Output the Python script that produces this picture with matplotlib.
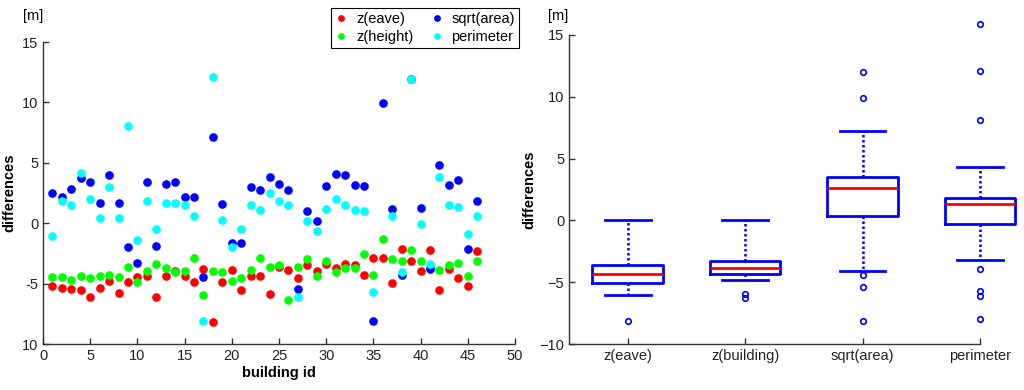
import matplotlib
matplotlib.use("Agg")
import matplotlib.pyplot as plt
import numpy as np

plt.rcParams["font.family"] = ["Liberation Sans", "DejaVu Sans"]
plt.rcParams["font.size"] = 10.5

# left panel: per-building differences [m]
building_id = list(range(1, 47))
z_eave = [-5.19, -5.35, -5.44, -5.52, -6.15, -5.35, -4.80, -5.79, -4.88, -4.44,
          -4.36, -6.07, -4.36, -3.97, -4.36, -4.88, -3.81, -8.20, -4.88, -3.89,
          -5.52, -4.36, -4.36, -5.85, -3.64, -3.89, -4.53, -3.45, -3.97, -3.37,
          -3.73, -3.37, -3.45, -4.25, -2.84, -2.92, -4.97, -2.10, -3.09, -3.97,
          -2.21, -5.52, -3.81, -4.53, -5.16, -2.29]
z_height = [-4.44, -4.44, -4.69, -4.33, -4.53, -4.33, -4.25, -4.44, -3.64, -4.88,
            -3.97, -3.37, -3.73, -4.08, -3.97, -2.84, -5.96, -3.97, -4.08, -4.80,
            -4.53, -3.89, -2.92, -3.64, -3.45, -6.32, -3.64, -3.00, -4.36, -3.17,
            -4.08, -3.73, -3.73, -2.57, -4.25, -1.30, -3.00, -3.09, -2.21, -3.09,
            -3.60, -3.89, -3.45, -3.26, -4.36, -3.09]
sqrt_area = [2.46, 2.13, 2.84, 3.73, 3.37, 1.66, 4.00, 1.66, -2.01, -3.26,
             3.45, -1.85, 3.28, 3.45, 2.21, 2.21, -4.44, 7.15, 1.57, -1.63,
             -1.63, 3.01, 2.73, 3.81, 3.28, 2.73, -5.44, 1.02, 0.22, 3.09,
             4.08, 4.00, 3.20, 3.09, -8.11, 9.91, 1.21, -4.25, 11.90, 1.27,
             -3.81, 4.80, 3.20, 3.61, -2.10, 1.82]
perimeter = [-1.02, 1.82, 1.49, 4.17, 2.01, 0.39, 3.01, 0.39, 8.03, -1.38,
             1.82, -0.50, 1.66, 1.66, 1.49, 0.58, -8.11, 12.09, 0.30, -1.93,
             -0.50, 1.49, 1.10, 2.48, 1.82, 1.49, -6.07, 0.22, -0.66, 1.21,
             2.01, 1.49, 1.10, 1.02, -5.68, np.nan, 0.58, -4.08, 11.95, -0.05,
             -3.37, 3.81, 1.49, 1.30, -0.86, 0.58]
left_yticks = [-10, -5, 0, 5, 10, 15]
left_yticklabels = ["10", "-5", "0", "5", "10", "15"]

# right panel: box statistics
box_labels = ["z(eave)", "z(building)", "sqrt(area)", "perimeter"]
box_med = [-4.31, -3.86, 2.64, 1.35]
box_q1 = [-5.07, -4.31, 0.35, -0.32]
box_q3 = [-3.64, -3.29, 3.53, 1.83]
box_whislo = [-6.04, -4.80, -4.10, -3.24]
box_whishi = [0.0, 0.0, 7.20, 4.31]
box_fliers = [[-8.14],
              [-5.93, -6.28],
              [12.0, 9.87, -4.43, -5.40, -8.10],
              [15.9, 12.08, 8.12, -3.96, -5.72, -6.09, -8.0]]

W, H = 1024, 390
fig = plt.figure(figsize=(W / 100, H / 100), dpi=100)

# ---- left scatter ----
ax1 = fig.add_axes([43 / W, 46 / H, 472 / W, 302 / H])
series = [(z_eave, "#ff0000", "z(eave)"),
          (z_height, "#00ff00", "z(height)"),
          (sqrt_area, "#0000ff", "sqrt(area)"),
          (perimeter, "#00ffff", "perimeter")]
for vals, col, lab in series:
    ax1.plot(building_id, vals, linestyle="none", marker="o", markersize=5.2,
             color=col, markeredgecolor=col, label=lab)
ax1.set_xlim(0, 50)
ax1.set_ylim(-10, 15)
ax1.set_xticks(range(0, 51, 5))
ax1.set_yticks(left_yticks)
ax1.set_yticklabels(left_yticklabels)
ax1.set_xlabel("building id", fontweight="bold", labelpad=2)
ax1.set_ylabel("differences", fontweight="bold", labelpad=4)

leg = ax1.legend(ncol=2, loc="upper right", bbox_to_anchor=(519 / W, 1 - 8 / H),
                 bbox_transform=fig.transFigure, borderaxespad=0, fancybox=False,
                 framealpha=1, edgecolor="black", handlelength=0.8,
                 handletextpad=0.6, columnspacing=1.2, borderpad=0.3,
                 labelspacing=0.25, markerscale=0.75)
leg.get_frame().set_linewidth(0.8)

# ---- right boxplot ----
ax2 = fig.add_axes([569 / W, 46 / H, 411 / W, 309 / H])
stats = []
for i in range(len(box_labels)):
    stats.append(dict(label=box_labels[i], med=box_med[i], q1=box_q1[i],
                      q3=box_q3[i], whislo=box_whislo[i], whishi=box_whishi[i],
                      fliers=box_fliers[i]))
arts = ax2.bxp(stats, positions=[1, 2, 3, 4], widths=0.6, showfliers=True,
               boxprops=dict(color="#0000ff", linewidth=2),
               whiskerprops=dict(color="#0000ff", linewidth=1.8,
                                 linestyle=(0, (1, 1))),
               capprops=dict(color="#0000ff", linewidth=2),
               medianprops=dict(color="#ff0000", linewidth=2),
               flierprops=dict(marker="o", markersize=4, markerfacecolor="none",
                               markeredgecolor="#0000ff", markeredgewidth=1.2))
for group in arts.values():
    for a in group:
        a.set_clip_on(False)
for cap in arts["caps"]:
    x = cap.get_xdata()
    c = x.mean()
    cap.set_xdata([c - 0.195, c + 0.195])
ax2.set_xlim(0.5, 4.0)
ax2.set_ylim(-10, 15)
ax2.set_yticks(left_yticks)
ax2.set_ylabel("differences", fontweight="bold", labelpad=2)

for ax in (ax1, ax2):
    ax.spines["top"].set_visible(False)
    ax.spines["right"].set_visible(False)
    for s in ("left", "bottom"):
        ax.spines[s].set_color("#333333")
        ax.spines[s].set_linewidth(1.0)
    ax.tick_params(direction="in", length=4, width=1, colors="#333333",
                   labelcolor="#222222", labelsize=10.5)

fig.text(23 / W, 1 - 16 / H, "[m]", ha="left", va="center", fontsize=10.5)
fig.text(548 / W, 1 - 16 / H, "[m]", ha="left", va="center", fontsize=10.5)

fig.savefig("out.png", dpi=100)
